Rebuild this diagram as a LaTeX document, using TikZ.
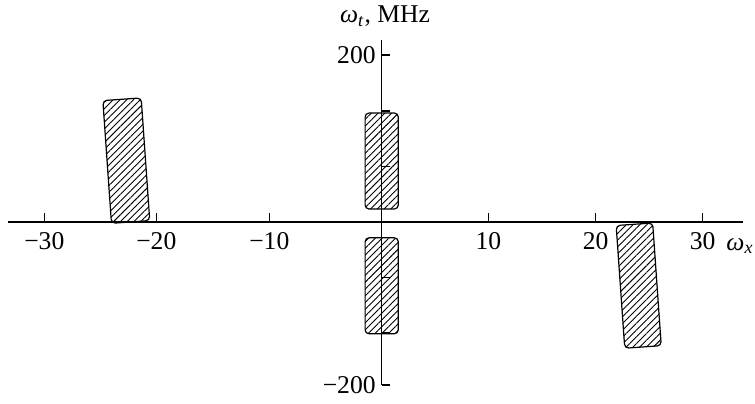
\documentclass[tikz,border=0pt]{standalone}
\usepackage{fontspec}
\setmainfont{Liberation Serif}
\usetikzlibrary{patterns.meta}
\tikzset{
  hatchbox/.style={draw, line width=0.6pt, rounded corners=2pt, inner sep=0pt,
    pattern={Lines[angle=45,distance=2.4pt,line width=0.45pt]}},
  axis/.style={line width=0.65pt},
  lbl/.style={font=\fontsize{12.8}{15}\selectfont, inner sep=0pt}
}
\begin{document}
\begin{tikzpicture}[x=0.5pt,y=-0.5pt]
\useasboundingbox (0,0) rectangle (755,403);
\node[hatchbox, minimum width=19.2pt, minimum height=61.5pt, rotate=4] (left) at (126.3,160.6) {};
\node[hatchbox, minimum width=18.3pt, minimum height=61.5pt, rotate=4] (right) at (638.7,285.6) {};
\node[hatchbox, minimum width=16.6pt, minimum height=48pt] (up) at (381.7,161) {};
\node[hatchbox, minimum width=16.6pt, minimum height=48pt] (down) at (381.7,285.8) {};
\coordinate (xa) at (8,222);
\coordinate (xb) at (743,222);
\coordinate (ya) at (381.7,40);
\coordinate (yb) at (381.7,385);
\draw[axis] (xa) -- (xb);
\draw[axis] (ya) -- (yb);
\foreach \x/\t [count=\i] in {44.3/−30,156.3/−20,269.3/−10,488.3/10,595.7/20,702.7/30}{
  \draw[axis] (\x,222) -- (\x,213);
  \node[lbl] (tx\i) at (\x,241) {\t};
}
\foreach \y in {55,111,166.3,277.7,333,385}
  \draw[axis] (381.7,\y) -- (390,\y);
\node[lbl, anchor=east] (ty1) at (376,55) {200};
\node[lbl, anchor=east] (ty2) at (376,385) {−200};
\node[lbl] (ylab) at (385,16) {\textit{ω}\textsubscript{\textit{t}}, MHz};
\node[lbl] (xlab) at (740,246) {\textit{ω}\textsubscript{\textit{x}}};
\end{tikzpicture}
\end{document}
